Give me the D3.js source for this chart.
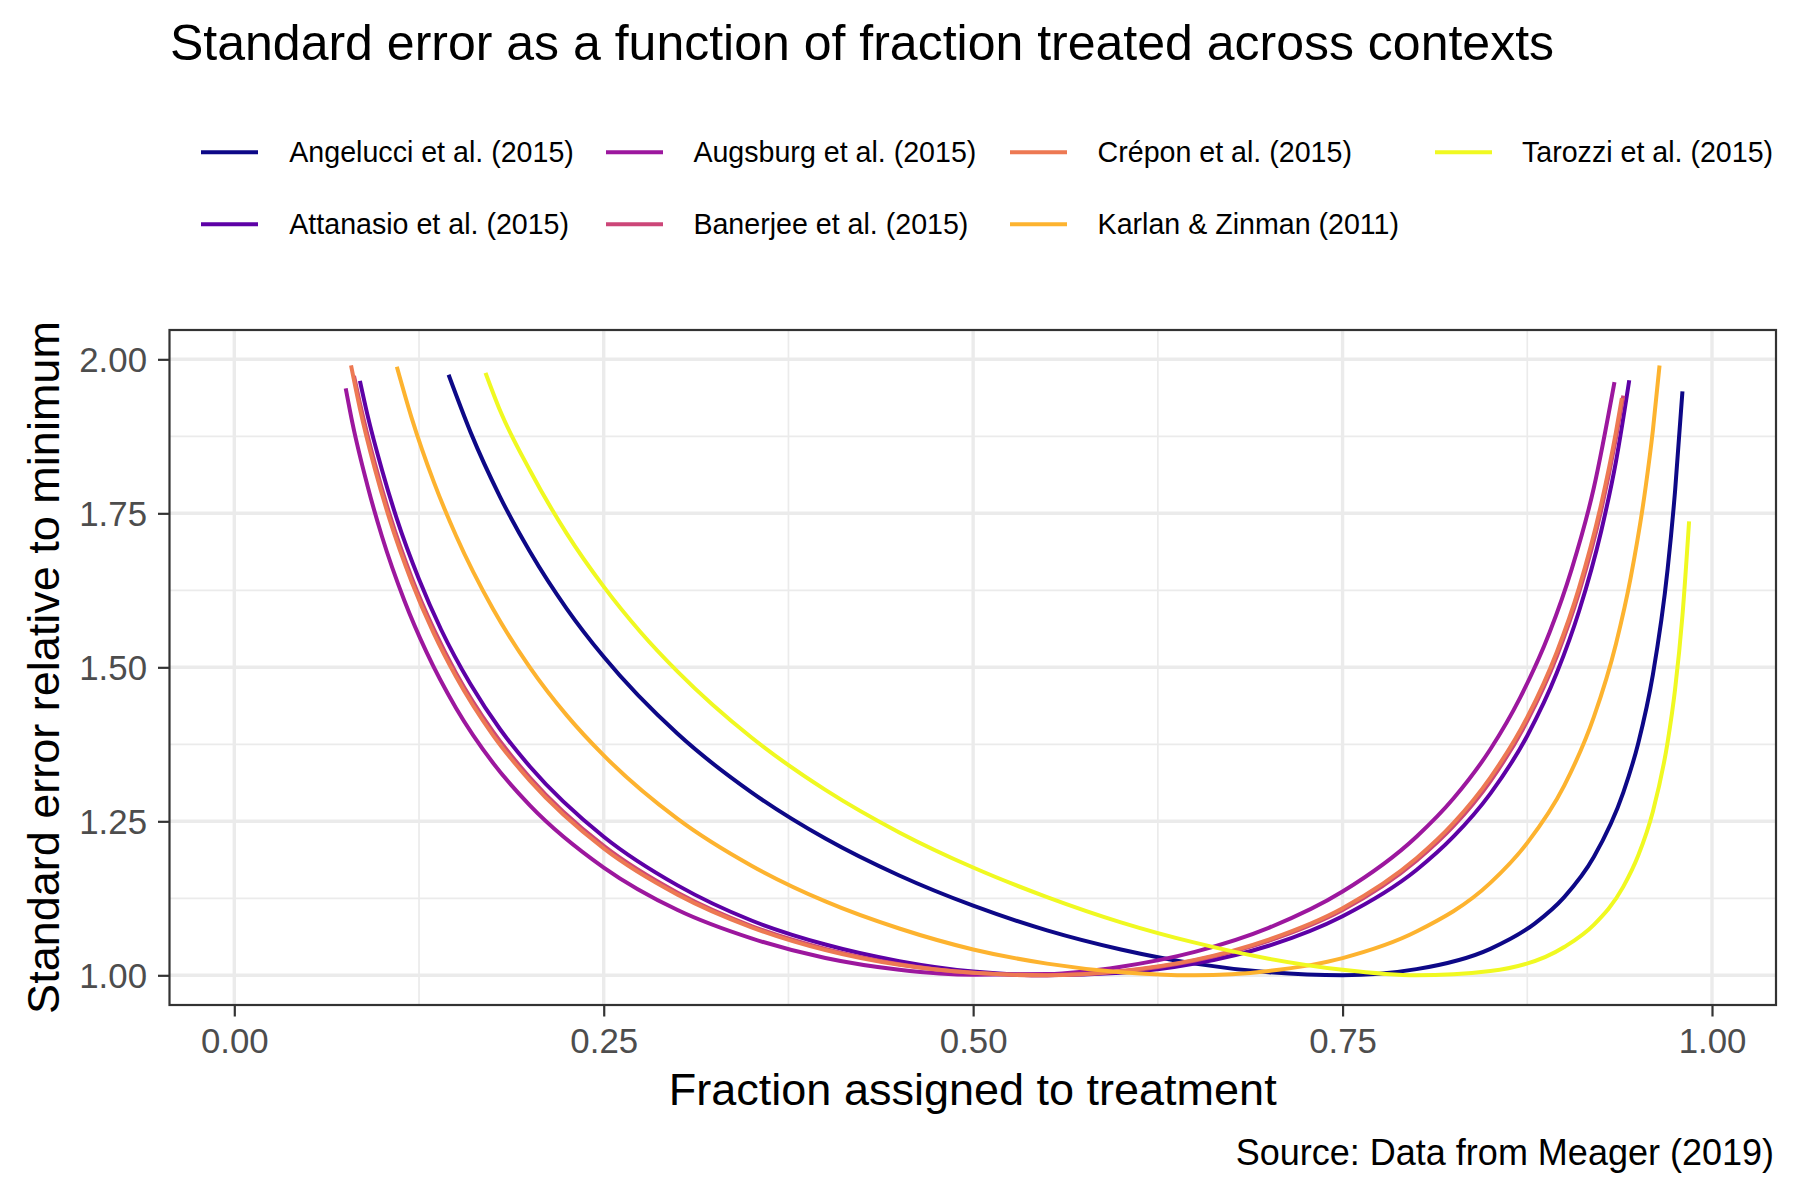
<!DOCTYPE html>
<html>
<head>
<meta charset="utf-8">
<script src="https://cdn.jsdelivr.net/npm/d3@7"></script>
<style>
  html, body { margin: 0; padding: 0; background: #ffffff; }
  svg { display: block; }
  text { font-family: "Liberation Sans", Arial, Helvetica, sans-serif; }
</style>
</head>
<body>
<div id="chart"></div>
<script>
// ---------------- DATA ----------------
const titleText = "Standard error as a function of fraction treated across contexts";
const xAxisTitle = "Fraction assigned to treatment";
const yAxisTitle = "Standard error relative to minimum";
const captionText = "Source: Data from Meager (2019)";

const studies = [
  "Angelucci et al. (2015)",
  "Attanasio et al. (2015)",
  "Augsburg et al. (2015)",
  "Banerjee et al. (2015)",
  "Crépon et al. (2015)",
  "Karlan & Zinman (2011)",
  "Tarozzi et al. (2015)"
];

const xTickValues = [0, 0.25, 0.5, 0.75, 1];
const xTickLabels = ["0.00", "0.25", "0.50", "0.75", "1.00"];
const yTickValues = [1, 1.25, 1.5, 1.75, 2];
const yTickLabels = ["1.00", "1.25", "1.50", "1.75", "2.00"];

// [fraction treated, SE relative to minimum]
const angelucci = [[0.145,1.975],[0.16,1.881],[0.18,1.776],[0.2,1.688],[0.225,1.595],[0.25,1.517],[0.3,1.392],[0.35,1.297],[0.4,1.222],[0.45,1.162],[0.5,1.113],[0.55,1.073],[0.6,1.042],[0.65,1.019],[0.7,1.005],[0.75,1.000],[0.8,1.010],[0.85,1.043],[0.88,1.084],[0.9,1.127],[0.92,1.192],[0.94,1.297],[0.95,1.376],[0.96,1.488],[0.97,1.660],[0.975,1.786],[0.98,1.948]];
const attanasio = [[0.085,1.965],[0.09,1.911],[0.1,1.820],[0.11,1.741],[0.125,1.643],[0.14,1.561],[0.16,1.472],[0.18,1.399],[0.2,1.339],[0.25,1.225],[0.3,1.146],[0.35,1.089],[0.4,1.050],[0.45,1.023],[0.5,1.006],[0.55,1.000],[0.6,1.004],[0.65,1.019],[0.7,1.048],[0.75,1.096],[0.8,1.171],[0.825,1.225],[0.85,1.295],[0.875,1.389],[0.895,1.491],[0.91,1.591],[0.925,1.721],[0.935,1.834],[0.944,1.966]];
const augsburg = [[0.0754,1.953],[0.08,1.896],[0.09,1.796],[0.1,1.712],[0.115,1.609],[0.13,1.525],[0.15,1.434],[0.175,1.345],[0.2,1.276],[0.25,1.175],[0.3,1.106],[0.35,1.060],[0.4,1.028],[0.45,1.009],[0.5,1.001],[0.55,1.002],[0.6,1.014],[0.65,1.038],[0.7,1.077],[0.75,1.136],[0.8,1.225],[0.825,1.287],[0.85,1.367],[0.87,1.450],[0.89,1.556],[0.905,1.659],[0.92,1.791],[0.934,1.963]];
const banerjee = [[0.081,1.973],[0.085,1.929],[0.095,1.832],[0.105,1.749],[0.12,1.646],[0.135,1.562],[0.15,1.491],[0.175,1.396],[0.2,1.321],[0.25,1.210],[0.3,1.134],[0.35,1.080],[0.4,1.043],[0.45,1.018],[0.5,1.004],[0.55,1.000],[0.6,1.006],[0.65,1.024],[0.7,1.056],[0.75,1.106],[0.8,1.186],[0.825,1.242],[0.85,1.315],[0.875,1.413],[0.895,1.518],[0.91,1.621],[0.925,1.755],[0.935,1.872],[0.94,1.941]];
const crepon = [[0.079,1.990],[0.085,1.920],[0.095,1.823],[0.105,1.741],[0.12,1.639],[0.135,1.555],[0.15,1.485],[0.175,1.390],[0.2,1.316],[0.25,1.206],[0.3,1.131],[0.35,1.078],[0.4,1.041],[0.45,1.017],[0.5,1.004],[0.55,1.000],[0.6,1.007],[0.65,1.025],[0.7,1.058],[0.75,1.109],[0.8,1.190],[0.825,1.247],[0.85,1.321],[0.875,1.419],[0.895,1.525],[0.91,1.629],[0.925,1.765],[0.935,1.882],[0.939,1.937]];
const karlan = [[0.11,1.988],[0.12,1.905],[0.135,1.801],[0.15,1.714],[0.175,1.595],[0.2,1.500],[0.225,1.422],[0.25,1.357],[0.3,1.254],[0.35,1.178],[0.4,1.120],[0.45,1.076],[0.5,1.042],[0.55,1.019],[0.6,1.005],[0.65,1.000],[0.7,1.007],[0.75,1.028],[0.8,1.071],[0.85,1.150],[0.875,1.215],[0.9,1.308],[0.92,1.419],[0.935,1.538],[0.945,1.646],[0.955,1.791],[0.96,1.885],[0.9645,1.990]];
const tarozzi = [[0.17,1.978],[0.18,1.916],[0.2,1.820],[0.225,1.717],[0.25,1.631],[0.275,1.557],[0.3,1.493],[0.35,1.386],[0.4,1.301],[0.45,1.232],[0.5,1.175],[0.55,1.127],[0.6,1.086],[0.65,1.053],[0.7,1.027],[0.75,1.009],[0.8,1.000],[0.85,1.007],[0.9,1.046],[0.92,1.082],[0.94,1.144],[0.95,1.194],[0.96,1.266],[0.97,1.379],[0.975,1.464],[0.98,1.584],[0.9845,1.737]];

const seriesValues = [angelucci, attanasio, augsburg, banerjee, crepon, karlan, tarozzi];

// ---------------- STYLE / LAYOUT ----------------
const colors = ["#0D0887", "#5D01A6", "#9C179E", "#CC4678", "#ED7953", "#FDB32F", "#F0F921"];
const W = 1800, H = 1200;
const panel = { left: 169.5, right: 1776, top: 330, bottom: 1005 };

const svg = d3.select("#chart").append("svg")
  .attr("width", W).attr("height", H)
  .attr("viewBox", `0 0 ${W} ${H}`);

svg.append("rect").attr("width", W).attr("height", H).attr("fill", "#ffffff");

const x = d3.scaleLinear().domain([-0.04385, 1.04331]).range([panel.left, panel.right]);
const y = d3.scaleLinear().domain([0.9518, 2.0476]).range([panel.bottom, panel.top]);

// grid
const grid = svg.append("g");
const xMinor = [0.125, 0.375, 0.625, 0.875];
const yMinor = [1.125, 1.375, 1.625, 1.875];
grid.selectAll(".xminor").data(xMinor).join("line")
  .attr("x1", d => x(d)).attr("x2", d => x(d))
  .attr("y1", panel.top).attr("y2", panel.bottom)
  .attr("stroke", "#EBEBEB").attr("stroke-width", 1.7);
grid.selectAll(".yminor").data(yMinor).join("line")
  .attr("y1", d => y(d)).attr("y2", d => y(d))
  .attr("x1", panel.left).attr("x2", panel.right)
  .attr("stroke", "#EBEBEB").attr("stroke-width", 1.7);
grid.selectAll(".xmajor").data(xTickValues).join("line")
  .attr("x1", d => x(d)).attr("x2", d => x(d))
  .attr("y1", panel.top).attr("y2", panel.bottom)
  .attr("stroke", "#EBEBEB").attr("stroke-width", 3.4);
grid.selectAll(".ymajor").data(yTickValues).join("line")
  .attr("y1", d => y(d)).attr("y2", d => y(d))
  .attr("x1", panel.left).attr("x2", panel.right)
  .attr("stroke", "#EBEBEB").attr("stroke-width", 3.4);

// lines
const line = d3.line()
  .x(d => x(d[0]))
  .y(d => y(d[1]))
  .curve(d3.curveMonotoneX);

svg.append("g").selectAll("path").data(seriesValues).join("path")
  .attr("d", d => line(d))
  .attr("fill", "none")
  .attr("stroke", (d, i) => colors[i])
  .attr("stroke-width", 4)
  .attr("stroke-linejoin", "round")
  .attr("stroke-linecap", "butt");

// panel border
svg.append("rect")
  .attr("x", panel.left).attr("y", panel.top)
  .attr("width", panel.right - panel.left).attr("height", panel.bottom - panel.top)
  .attr("fill", "none").attr("stroke", "#333333").attr("stroke-width", 2.2);

// axes
const xAxis = d3.axisBottom(x)
  .tickValues(xTickValues)
  .tickFormat((d, i) => xTickLabels[i])
  .tickSize(11.5).tickPadding(11.5);
const gx = svg.append("g").attr("transform", `translate(0,${panel.bottom})`).call(xAxis);
gx.select(".domain").remove();
gx.selectAll(".tick line").attr("stroke", "#333333").attr("stroke-width", 2.2);
gx.selectAll(".tick text").attr("fill", "#4D4D4D")
  .style("font-size", "34.8px")
  .style("font-family", '"Liberation Sans", Arial, Helvetica, sans-serif');

const yAxis = d3.axisLeft(y)
  .tickValues(yTickValues)
  .tickFormat((d, i) => yTickLabels[i])
  .tickSize(11.5).tickPadding(11);
const gy = svg.append("g").attr("transform", `translate(${panel.left},0)`).call(yAxis);
gy.select(".domain").remove();
gy.selectAll(".tick line").attr("stroke", "#333333").attr("stroke-width", 2.2);
gy.selectAll(".tick text").attr("fill", "#4D4D4D")
  .attr("dy", "0.35em")
  .style("font-size", "34.8px")
  .style("font-family", '"Liberation Sans", Arial, Helvetica, sans-serif');

// titles
svg.append("text")
  .attr("x", 170).attr("y", 60)
  .attr("font-size", 50).attr("fill", "#000")
  .text(titleText);

svg.append("text")
  .attr("x", (panel.left + panel.right) / 2).attr("y", 1105)
  .attr("text-anchor", "middle")
  .attr("font-size", 45).attr("fill", "#000")
  .text(xAxisTitle);

svg.append("text")
  .attr("transform", `translate(59,${(panel.top + panel.bottom) / 2}) rotate(-90)`)
  .attr("text-anchor", "middle")
  .attr("font-size", 45).attr("fill", "#000")
  .text(yAxisTitle);

svg.append("text")
  .attr("x", 1774).attr("y", 1165)
  .attr("text-anchor", "end")
  .attr("font-size", 36).attr("fill", "#000")
  .text(captionText);

// legend (2 rows, filled by column)
const legendCols = [
  { key: 201, text: 289.3 },
  { key: 606, text: 693.4 },
  { key: 1010, text: 1097.6 },
  { key: 1435, text: 1522 }
];
const legendRows = [152.3, 224.3];
const legend = svg.append("g");
studies.forEach((name, i) => {
  const col = legendCols[Math.floor(i / 2)];
  const rowY = legendRows[i % 2];
  legend.append("line")
    .attr("x1", col.key).attr("x2", col.key + 57)
    .attr("y1", rowY).attr("y2", rowY)
    .attr("stroke", colors[i]).attr("stroke-width", 4);
  legend.append("text")
    .attr("x", col.text).attr("y", rowY + 10)
    .attr("font-size", 28.6).attr("fill", "#000")
    .text(name);
});
</script>
</body>
</html>
